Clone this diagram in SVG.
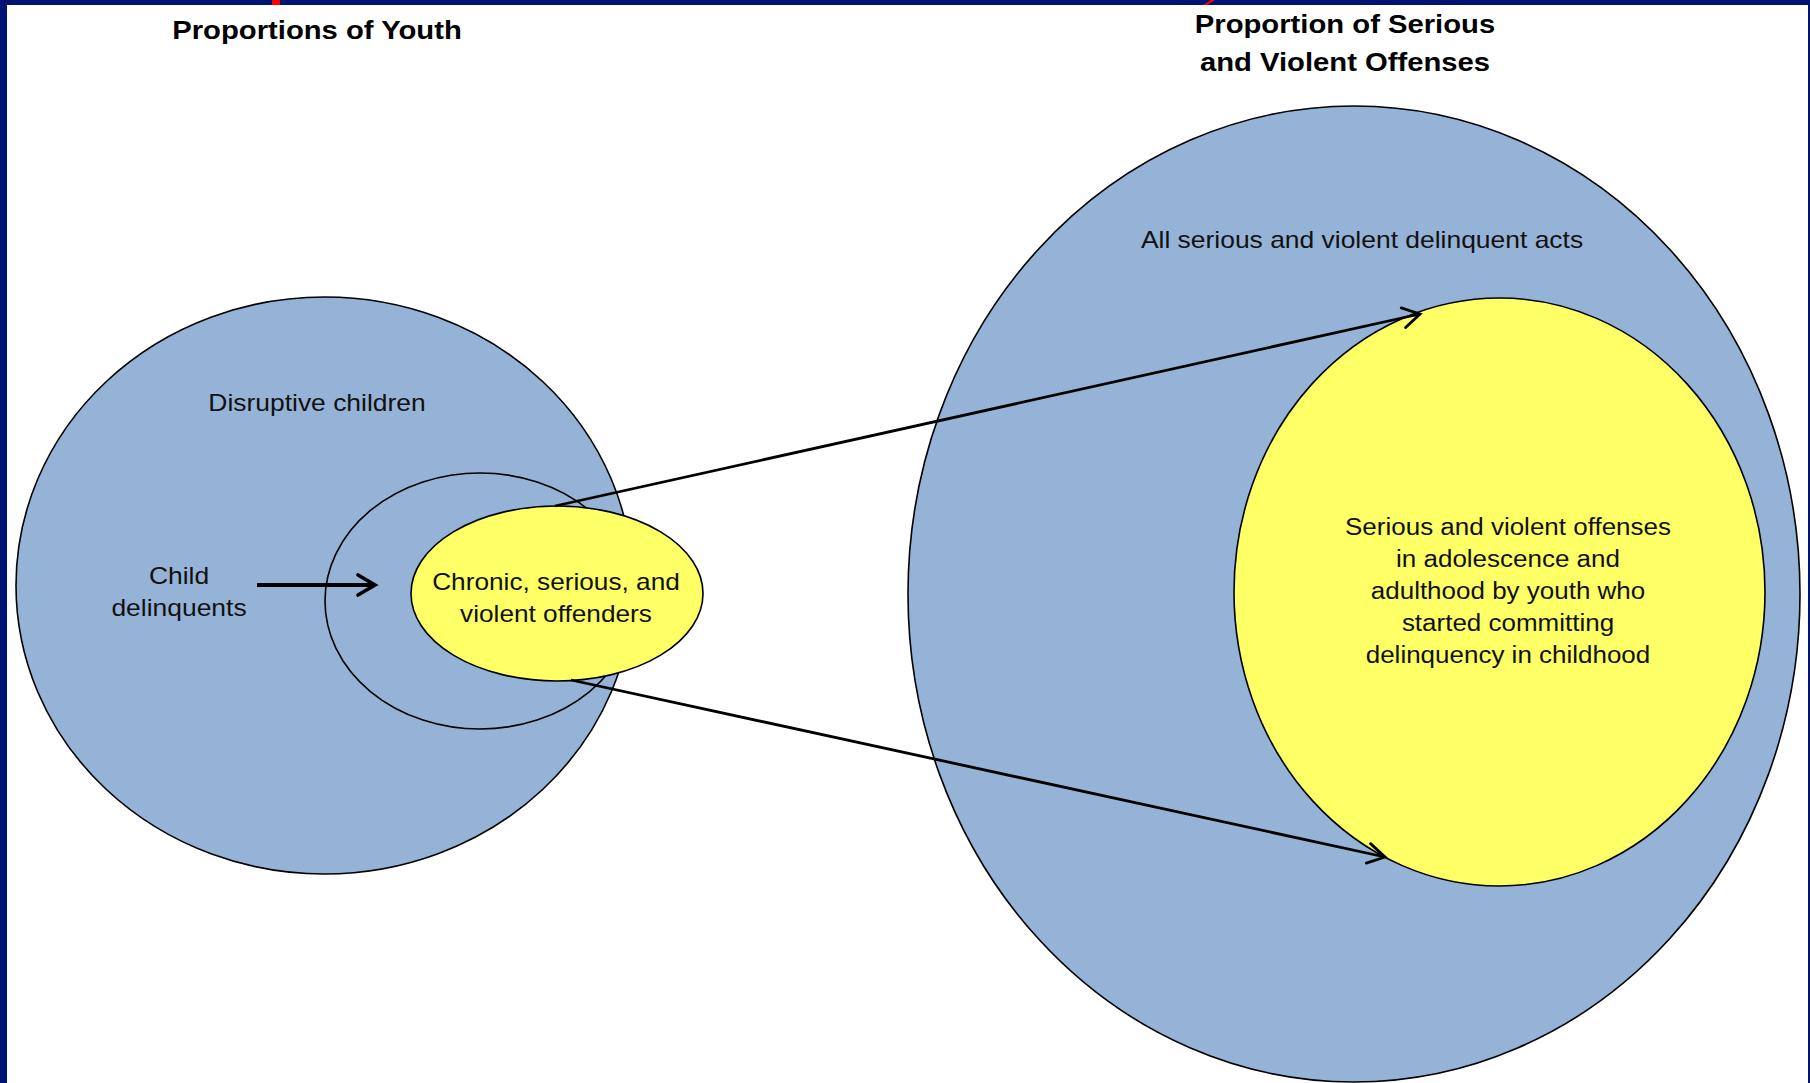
<svg xmlns="http://www.w3.org/2000/svg" width="1810" height="1083" viewBox="0 0 1810 1083">
  <style>
    .blue { fill: #95B3D7; stroke: #000; stroke-width: 1.6; }
    .yellow { fill: #FFFF66; stroke: #000; stroke-width: 1.6; }
    .lbl { font-family: "Liberation Sans", Arial, sans-serif; font-size: 23px; fill: #111; text-anchor: middle; }
    .title { font-family: "Liberation Sans", Arial, sans-serif; font-size: 25px; font-weight: bold; fill: #000; text-anchor: middle; }
    .conn { fill: none; stroke: #000; stroke-width: 2.8; }
    .conn-thick { fill: none; stroke: #000; stroke-width: 4; }
    .frame { fill: #001272; }
  </style>
  <defs>
    <marker id="arrow" markerUnits="userSpaceOnUse" markerWidth="24" markerHeight="24" refX="20" refY="11" orient="auto" overflow="visible">
      <path d="M3,1 L20,11 L3,21" fill="none" stroke="#000" stroke-width="2.8" stroke-linecap="round" stroke-linejoin="miter"/>
    </marker>
    <marker id="arrow-thick" markerUnits="userSpaceOnUse" markerWidth="26" markerHeight="26" refX="21" refY="12" orient="auto" overflow="visible">
      <path d="M4,2 L21,12 L4,22" fill="none" stroke="#000" stroke-width="3.6" stroke-linecap="round"/>
    </marker>
  </defs>

  <rect x="0" y="0" width="1810" height="1083" fill="#fff"/>

  <!-- frame -->
  <g id="frame">
    <rect class="frame" x="0" y="0" width="1810" height="5"/>
    <rect class="frame" x="0" y="0" width="7" height="1083"/>
    <rect class="frame" x="1808" y="0" width="2" height="1083"/>
    <rect x="272" y="0" width="8" height="5" fill="#ff0000"/>
    <polygon points="1203,5 1207,5 1215,0 1211,0" fill="#ff0000"/>
  </g>

  <!-- titles -->
  <g id="title-left">
    <text class="title" transform="translate(317 39) scale(1.17 1)">Proportions of Youth</text>
  </g>
  <g id="title-right">
    <text class="title" transform="translate(1345 33) scale(1.17 1)"><tspan x="0" dy="0">Proportion of Serious</tspan><tspan x="0" dy="38">and Violent Offenses</tspan></text>
  </g>

  <!-- left diagram -->
  <g id="disruptive-children">
    <ellipse class="blue" cx="324.5" cy="585.5" rx="308.5" ry="288.5"/>
    <text class="lbl" transform="translate(317 411) scale(1.15 1)">Disruptive children</text>
  </g>
  <g id="child-delinquents">
    <ellipse class="blue" cx="480" cy="601" rx="155" ry="128"/>
    <text class="lbl" transform="translate(179 584) scale(1.15 1)"><tspan x="0" dy="0">Child</tspan><tspan x="0" dy="32">delinquents</tspan></text>
  </g>
  <g id="chronic-offenders">
    <ellipse class="yellow" cx="557" cy="593.5" rx="146" ry="87.5"/>
    <text class="lbl" transform="translate(556 590) scale(1.14 1)"><tspan x="0" dy="0">Chronic, serious, and</tspan><tspan x="0" dy="32">violent offenders</tspan></text>
  </g>

  <!-- right diagram -->
  <g id="all-acts">
    <ellipse class="blue" cx="1354" cy="594" rx="446" ry="488"/>
    <text class="lbl" transform="translate(1362 248) scale(1.15 1)">All serious and violent delinquent acts</text>
  </g>
  <g id="offenses-childhood-starters">
    <ellipse class="yellow" cx="1499.5" cy="592" rx="265.5" ry="294"/>
    <text class="lbl" transform="translate(1508 535) scale(1.13 1)"><tspan x="0" dy="0">Serious and violent offenses</tspan><tspan x="0" dy="32">in adolescence and</tspan><tspan x="0" dy="32">adulthood by youth who</tspan><tspan x="0" dy="32">started committing</tspan><tspan x="0" dy="32">delinquency in childhood</tspan></text>
  </g>

  <!-- connectors -->
  <g id="connectors">
    <line class="conn-thick" x1="257" y1="585" x2="375" y2="585" marker-end="url(#arrow-thick)"/>
    <line class="conn" x1="555" y1="506" x2="1420" y2="314" marker-end="url(#arrow)"/>
    <line class="conn" x1="571" y1="680" x2="1385" y2="857" marker-end="url(#arrow)"/>
  </g>
</svg>
